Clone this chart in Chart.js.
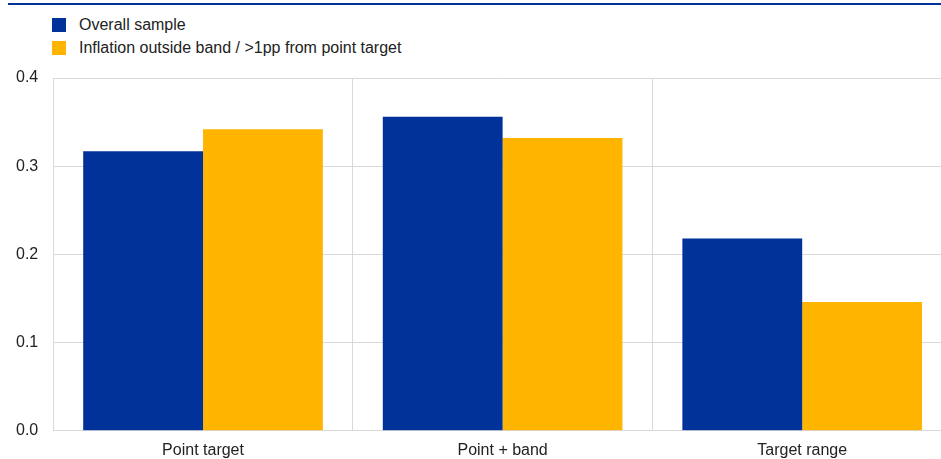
<!DOCTYPE html>
<html>
<head>
<meta charset="utf-8">
<script src="https://cdn.jsdelivr.net/npm/chart.js@4"></script>
<style>
  html, body { margin: 0; padding: 0; background: #fff; overflow: hidden; }
  #wrap { position: relative; width: 953px; height: 470px; }
  #topline { position: absolute; left: 8px; top: 3px; width: 945px; height: 2px; background: #003299; }
  #legend { position: absolute; left: 52px; top: 13px; font: 16px "Liberation Sans", Arial, sans-serif; color: #222; }
  .item { display: flex; align-items: center; height: 23px; }
  .box { width: 14px; height: 14px; margin-right: 13px; }
  canvas { position: absolute; left: 0; top: 0; }
</style>
</head>
<body>
<div id="wrap">
  <div id="topline"></div>
  <div id="legend"></div>
  <canvas id="chart" width="953" height="470"></canvas>
</div>
<script>
const categories = ["Point target", "Point + band", "Target range"];
const seriesNames = ["Overall sample", "Inflation outside band / >1pp from point target"];
const overallSample = [0.317, 0.356, 0.218];
const outsideBand = [0.342, 0.332, 0.146];
const yTicks = [0, 0.1, 0.2, 0.3, 0.4];
const colors = ["#003299", "#ffb400"];

document.addEventListener("DOMContentLoaded", function () {
  const legend = document.getElementById("legend");
  seriesNames.forEach(function (name, i) {
    const row = document.createElement("div");
    row.className = "item";
    row.innerHTML = '<span class="box" style="background:' + colors[i] + '"></span><span>' + name + "</span>";
    legend.appendChild(row);
  });

  Chart.defaults.font.family = '"Liberation Sans", Arial, sans-serif';
  Chart.defaults.font.size = 16;
  Chart.defaults.color = "#222";

  const ctx = document.getElementById("chart").getContext("2d");
  new Chart(ctx, {
    type: "bar",
    data: {
      labels: categories,
      datasets: [
        { label: seriesNames[0], data: overallSample, backgroundColor: colors[0] },
        { label: seriesNames[1], data: outsideBand, backgroundColor: colors[1] },
      ],
    },
    options: {
      responsive: false,
      animation: false,
      layout: { padding: { top: 78, left: 1, right: 1, bottom: 0 } },
      plugins: { legend: { display: false }, tooltip: { enabled: false } },
      datasets: { bar: { categoryPercentage: 0.8, barPercentage: 1.0 } },
      scales: {
        x: {
          grid: { color: "#d9d9d9", drawTicks: false, offset: true },
          border: { color: "#d9d9d9" },
          ticks: { padding: 10 },
        },
        y: {
          min: yTicks[0],
          max: yTicks[yTicks.length - 1],
          afterBuildTicks: function (axis) {
            axis.ticks = yTicks.map(function (v) { return { value: v }; });
          },
          grid: { color: "#d9d9d9", drawTicks: false },
          border: { display: false },
          ticks: {
            padding: 15,
            callback: function (value) { return value.toFixed(1); },
          },
        },
      },
    },
  });
});
</script>
</body>
</html>
